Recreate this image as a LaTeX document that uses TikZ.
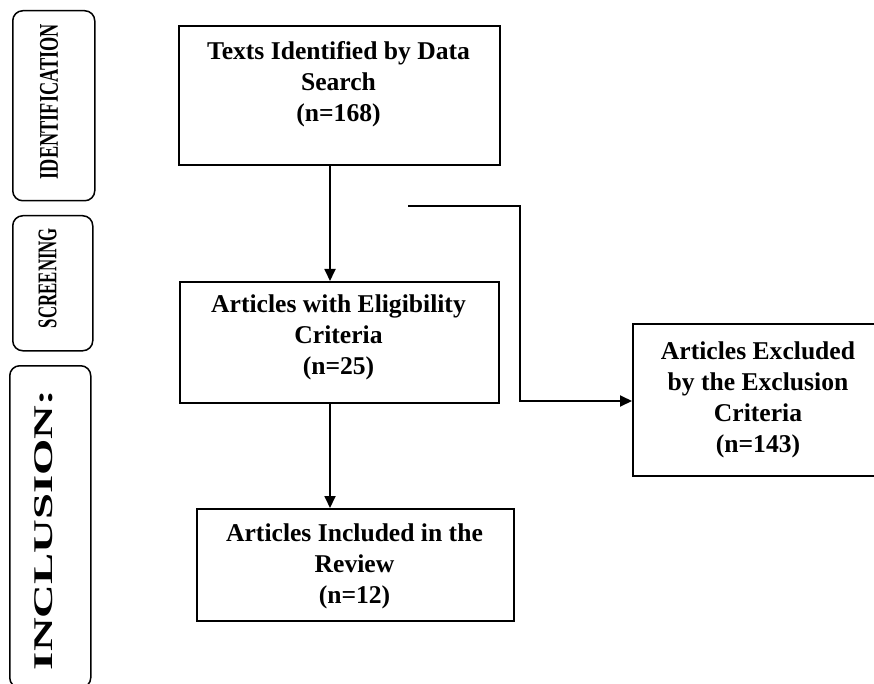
\documentclass[tikz,border=0pt]{standalone}
\usepackage{fontspec}
\setmainfont{Liberation Serif}
\usetikzlibrary{arrows.meta,calc}
\begin{document}
\begin{tikzpicture}[x=1pt,y=-1pt,
  box/.style={draw=black,line width=1.8pt,rectangle,inner sep=0pt,anchor=north west},
  sidebox/.style={draw=black,line width=1.5pt,rounded corners=10pt,inner sep=0pt,anchor=north west},
  txt/.style={align=center,font=\fontsize{25.6}{31}\selectfont\bfseries,inner sep=0pt},
  sidetxt/.style={font=\fontsize{27}{30}\selectfont\bfseries,rotate=90,inner sep=0pt},
  arr/.style={line width=1.8pt,-{Triangle[length=12pt,width=11pt]}}]
\clip (0,0) rectangle (874,684);
\fill[white] (0,0) rectangle (874,684);
% side boxes
\node[sidebox, minimum width=82pt, minimum height=190pt] (s1) at (12,10) {};
\node[sidebox, minimum width=80pt, minimum height=135pt] (s2) at (12,215) {};
\node[sidebox, minimum width=81pt, minimum height=322pt] (s3) at (9,365) {};
\node[sidetxt] (st1) at (49,101.5) {\scalebox{0.678}[1]{IDENTIFICATION}};
\node[sidetxt] (st2) at (47.5,278) {\scalebox{0.623}[1]{SCREENING}};
\node[sidetxt] (st3) at (44,530) {\scalebox{1.73}[1]{INCLUSION:}};
% main boxes
\node[box, minimum width=321pt, minimum height=139pt] (b1) at (178,25) {};
\node[box, minimum width=319pt, minimum height=121pt] (b2) at (179,281) {};
\node[box, minimum width=317pt, minimum height=112pt] (b3) at (196,508) {};
\node[box, minimum width=252pt, minimum height=152pt] (ex) at (632,323) {};
\node[txt] (t1) at (338.5,84) {Texts Identified by Data\\Search\\(n=168)};
\node[txt] (t2) at (338.5,337.5) {Articles with Eligibility\\Criteria\\(n=25)};
\node[txt] (t3) at (354.5,566) {Articles Included in the\\Review\\(n=12)};
\node[txt] (t4) at (758,400) {Articles Excluded\\by the Exclusion\\Criteria\\(n=143)};
% connectors
\coordinate (ax) at (330,0);
\coordinate (c0) at (408,206);
\coordinate (c2) at (520,401);
\draw[arr] (b1.south -| ax) -- (b2.north -| ax);
\draw[arr] (b2.south -| ax) -- (b3.north -| ax);
\draw[arr] (c0) -| (c2) -- (ex.west |- c2);
\end{tikzpicture}
\end{document}
